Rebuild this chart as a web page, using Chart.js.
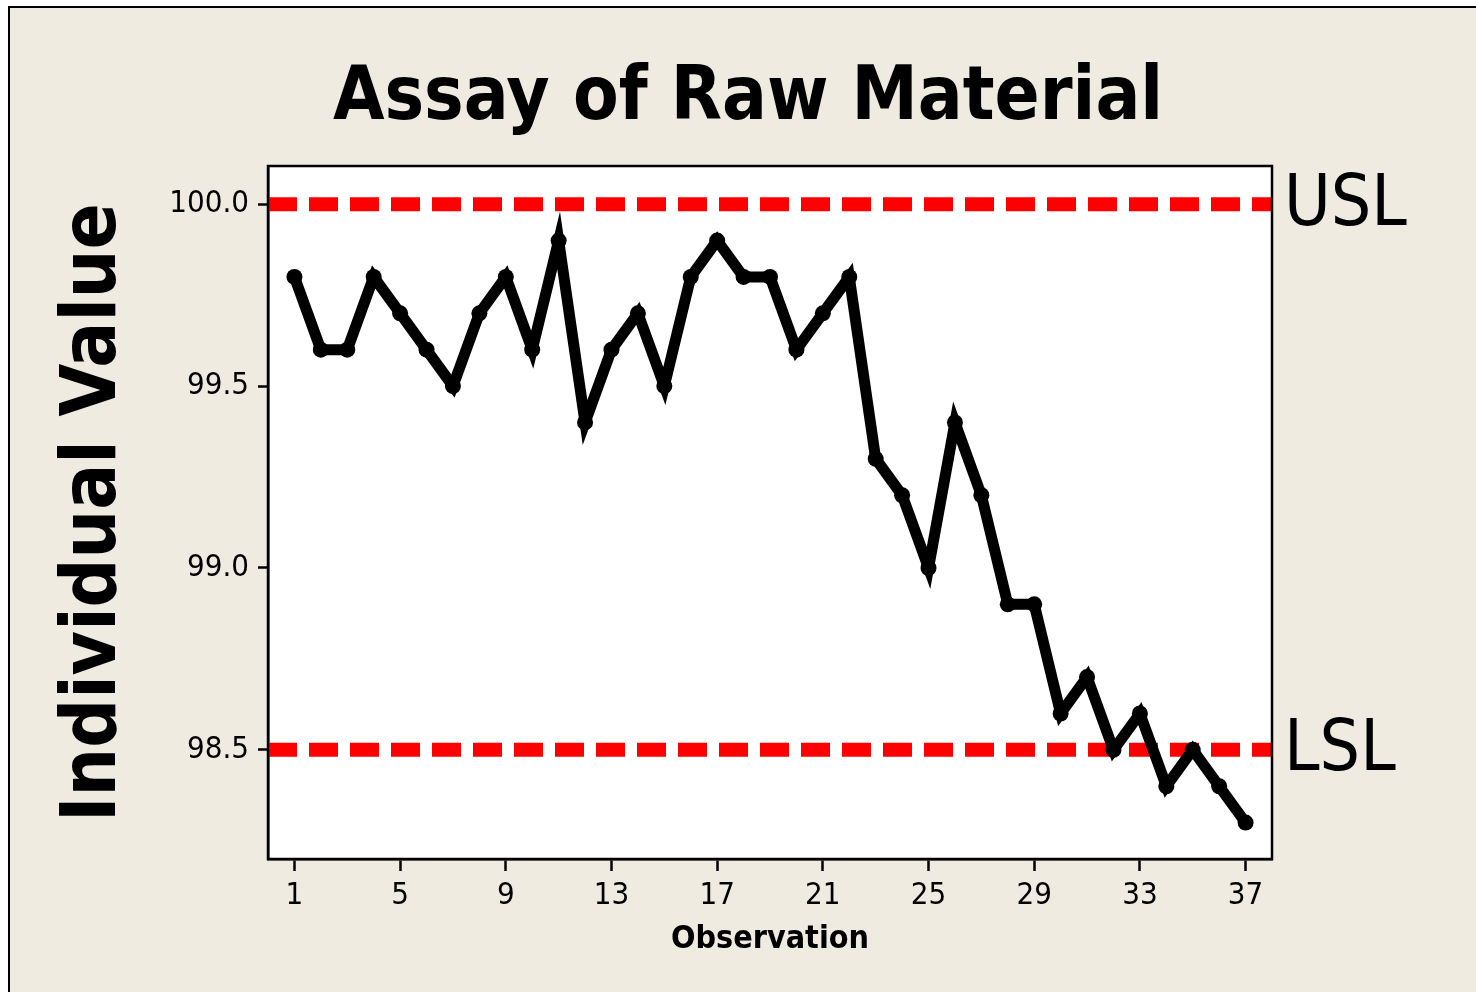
<!DOCTYPE html>
<html>
<head>
<meta charset="utf-8">
<script src="https://cdn.jsdelivr.net/npm/chart.js@4"></script>
<style>
    html, body { margin: 0; padding: 0; background: #ffffff; }
    #chart { display: block; }
</style>
</head>
<body>
<canvas id="chart" width="1476" height="992"></canvas>
<script>
const observations = [1, 2, 3, 4, 5, 6, 7, 8, 9, 10, 11, 12, 13, 14, 15, 16, 17, 18, 19, 20, 21, 22, 23, 24, 25, 26, 27, 28, 29, 30, 31, 32, 33, 34, 35, 36, 37];
const assayValues = [99.8, 99.6, 99.6, 99.8, 99.7, 99.6, 99.5, 99.7, 99.8, 99.6, 99.9, 99.4, 99.6, 99.7, 99.5, 99.8, 99.9, 99.8, 99.8, 99.6, 99.7, 99.8, 99.3, 99.2, 99.0, 99.4, 99.2, 98.9, 98.9, 98.6, 98.7, 98.5, 98.6, 98.4, 98.5, 98.4, 98.3];
const xTickValues = [1, 5, 9, 13, 17, 21, 25, 29, 33, 37];
const yTickValues = [98.5, 99.0, 99.5, 100.0];
const specLimits = [{ label: "USL", value: 100.0 }, { label: "LSL", value: 98.5 }];

const FONT = "'DejaVu Sans Condensed', 'DejaVu Sans', sans-serif";
const ctx = document.getElementById("chart");

const frame = {
    id: "frame",
    beforeDraw(chart) {
        const c = chart.ctx;
        c.save();
        c.fillStyle = "#ffffff";
        c.fillRect(0, 0, chart.width, chart.height);
        c.fillStyle = "#efebe1";
        c.fillRect(8, 6, chart.width - 8, chart.height - 6);
        c.strokeStyle = "#000000";
        c.lineWidth = 2;
        c.beginPath();
        c.moveTo(9, chart.height);
        c.lineTo(9, 7);
        c.lineTo(chart.width, 7);
        c.stroke();
        const a = chart.chartArea;
        c.fillStyle = "#ffffff";
        c.fillRect(a.left, a.top, a.right - a.left, a.bottom - a.top);
        c.restore();
    },
    afterDraw(chart) {
        const c = chart.ctx;
        const a = chart.chartArea;
        c.save();
        c.strokeStyle = "#000000";
        c.lineWidth = 2.5;
        c.strokeRect(a.left, a.top, a.right - a.left, a.bottom - a.top);
        // spec limit labels
        c.fillStyle = "#000000";
        c.font = "71px " + FONT;
        c.textBaseline = "middle";
        c.textAlign = "left";
        specLimits.forEach((s) => {
            c.fillText(s.label, a.right + 12, chart.scales.y.getPixelForValue(s.value) + 2);
        });
        c.restore();
    }
};

const datasets = specLimits.map((s) => ({
    label: s.label,
    data: [{ x: 0, y: s.value }, { x: 38, y: s.value }],
    borderColor: "#ff0000",
    borderWidth: 14,
    borderDash: [29, 12],
    borderCapStyle: "butt",
    pointRadius: 0,
    order: 2
}));

datasets.push({
    label: "Assay",
    data: observations.map((o, i) => ({ x: o, y: assayValues[i] })),
    borderColor: "#000000",
    borderWidth: 11,
    borderJoinStyle: "miter",
    tension: 0,
    pointRadius: 8,
    pointBackgroundColor: "#000000",
    pointBorderWidth: 0,
    order: 1
});

new Chart(ctx, {
    type: "line",
    data: { datasets: datasets },
    options: {
        responsive: false,
        animation: false,
        layout: {
            padding: { left: 20, top: 0, right: 0, bottom: 0 }
        },
        plugins: {
            legend: { display: false },
            tooltip: { enabled: false },
            title: {
                display: true,
                text: "Assay of Raw Material",
                color: "#000000",
                font: { family: FONT, size: 74, weight: "bold", lineHeight: 1 },
                padding: { top: 63, bottom: 29 }
            }
        },
        scales: {
            x: {
                type: "linear",
                min: 0,
                max: 38,
                afterFit: (scale) => { scale.height = 133; },
                afterBuildTicks: (scale) => { scale.ticks = xTickValues.map((v) => ({ value: v })); },
                grid: {
                    drawOnChartArea: false,
                    drawTicks: true,
                    tickLength: 12,
                    tickWidth: 2.5,
                    tickColor: "#000000"
                },
                border: { display: true, color: "#000000", width: 2.5 },
                ticks: {
                    color: "#000000",
                    padding: 6,
                    font: { family: FONT, size: 31 }
                },
                title: {
                    display: true,
                    text: "Observation",
                    color: "#000000",
                    font: { family: FONT, size: 32, weight: "bold", lineHeight: 1 },
                    padding: { top: 0, bottom: 36 }
                }
            },
            y: {
                min: 98.2,
                max: 100.105,
                afterFit: (scale) => { scale.width = 248; },
                afterBuildTicks: (scale) => { scale.ticks = yTickValues.map((v) => ({ value: v })); },
                grid: {
                    drawOnChartArea: false,
                    drawTicks: true,
                    tickLength: 10,
                    tickWidth: 2.5,
                    tickColor: "#000000"
                },
                border: { display: true, color: "#000000", width: 2.5 },
                ticks: {
                    color: "#000000",
                    padding: 9,
                    font: { family: FONT, size: 31 },
                    callback: (v) => Number(v).toFixed(1)
                },
                title: {
                    display: true,
                    text: "Individual Value",
                    color: "#000000",
                    font: { family: FONT, size: 76, weight: "bold", lineHeight: 1 },
                    padding: { top: 37, bottom: 0 }
                }
            },
            // empty right-hand strip that holds the USL / LSL labels
            yRight: {
                position: "right",
                display: true,
                afterFit: (scale) => { scale.width = 204; },
                grid: { display: false },
                border: { display: false },
                ticks: { display: false }
            }
        }
    },
    plugins: [frame]
});
</script>
</body>
</html>
